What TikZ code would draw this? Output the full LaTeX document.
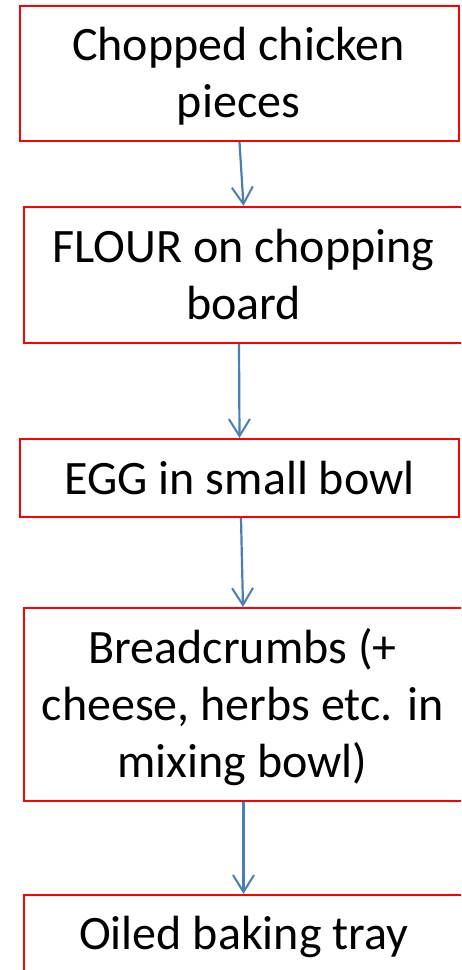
\documentclass[tikz,border=0pt]{standalone}
\usepackage{fontspec}
\setmainfont{Carlito}
\usetikzlibrary{arrows.meta}
\definecolor{boxred}{HTML}{FF0000}
\definecolor{arrowblue}{HTML}{4A7EBB}
\begin{document}
\begin{tikzpicture}[x=1pt,y=1pt,
  stepbox/.style={draw=boxred, line width=2.2pt, inner sep=0pt, rectangle, minimum width=439pt},
  steptext/.style={inner sep=0pt, align=center, font=\fontsize{48}{57}\selectfont, anchor=base},
  flow/.style={draw=arrowblue, line width=2.2pt, -{Straight Barb[length=17pt,width=21pt,line width=2pt]}}
]
\clip (0,0) rectangle (461,-970);
\fill[white] (0,0) rectangle (461,-970);
% boxes
\node[stepbox, minimum height=135pt] (b1) at (239.5,-73.5) {};
\node[stepbox, minimum height=136pt] (b2) at (243.5,-275) {};
\node[stepbox, minimum height=78pt]  (b3) at (239.5,-478) {};
\node[stepbox, minimum height=193pt] (b4) at (243.5,-704.5) {};
\node[stepbox, minimum height=105pt] (b5) at (243.5,-947.5) {};
% texts (anchor at baseline of the last line)
\node[steptext] (t1) at (238.5,-117.3) {Chopped chicken\\pieces};
\node[steptext] (t2) at (243.5,-319.3) {FLOUR on chopping\\board};
\node[steptext] (t3) at (239.7,-494) {EGG in small bowl};
\node[steptext] (t4) at (242.5,-777.3) {Breadcrumbs (+\\cheese, herbs etc. in\\mixing bowl)};
\node[steptext] (t5) at (243.7,-949.3) {Oiled baking tray};
% connectors
\draw[flow] (b1.south) -- (b2.north);
\draw[flow] ([xshift=-4.5pt]b2.south) -- (b3.north);
\draw[flow] ([xshift=1.5pt]b3.south) -- ([xshift=-0.5pt]b4.north);
\draw[flow] (b4.south) -- (b5.north);
\end{tikzpicture}
\end{document}
